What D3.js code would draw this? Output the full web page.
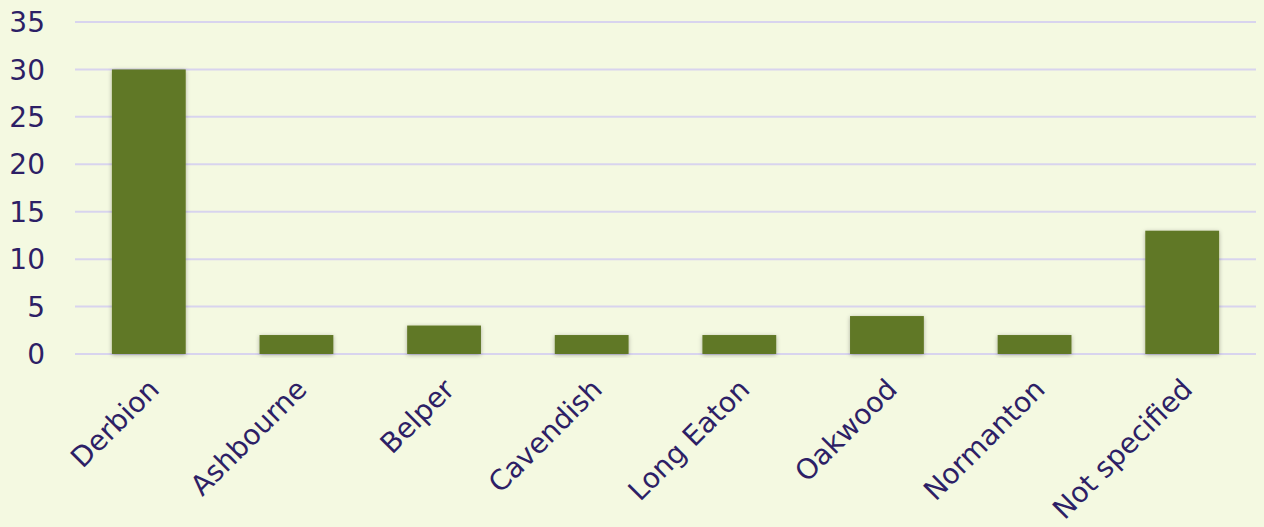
<!DOCTYPE html>
<html>
<head>
<meta charset="utf-8">
<script src="https://cdn.jsdelivr.net/npm/d3@7"></script>
<style>
  body { margin: 0; background: #f4f9e1; }
  svg { display: block; font-family: "DejaVu Sans", Verdana, sans-serif; }
</style>
</head>
<body>
<div id="chart"></div>
<script>
const categories = ['Derbion', 'Ashbourne', 'Belper', 'Cavendish', 'Long Eaton', 'Oakwood', 'Normanton', 'Not specified'];
const values = [30, 2, 3, 2, 2, 4, 2, 13];
const yTicks = [0, 5, 10, 15, 20, 25, 30, 35];

const width = 1264, height = 527;
const margin = { top: 22, right: 8, bottom: 173, left: 75 };

const svg = d3.select('#chart').append('svg')
    .attr('width', width)
    .attr('height', height);

svg.append('rect').attr('width', width).attr('height', height).attr('fill', '#f4f9e1');

const defs = svg.append('defs');
const f = defs.append('filter').attr('id', 'shadow').attr('x', '-20%').attr('y', '-20%').attr('width', '140%').attr('height', '140%');
f.append('feDropShadow').attr('dx', 0).attr('dy', 1).attr('stdDeviation', 2).attr('flood-color', '#000').attr('flood-opacity', 0.3);

const x = d3.scaleBand()
    .domain(categories)
    .range([margin.left, width - margin.right])
    .paddingInner(0.5)
    .paddingOuter(0.25);

const y = d3.scaleLinear()
    .domain([0, 35])
    .range([height - margin.bottom, margin.top]);

// gridlines
svg.append('g')
    .selectAll('line')
    .data(yTicks)
    .enter()
    .append('line')
    .attr('x1', margin.left)
    .attr('x2', width - margin.right)
    .attr('y1', d => y(d))
    .attr('y2', d => y(d))
    .attr('stroke', '#d8d4ee')
    .attr('stroke-width', 2);

// y labels
svg.append('g')
    .selectAll('text')
    .data(yTicks)
    .enter()
    .append('text')
    .attr('x', 45)
    .attr('y', d => y(d))
    .attr('dy', '0.36em')
    .attr('text-anchor', 'end')
    .attr('fill', '#2d1f66')
    .style('font-size', '28px')
    .text(d => d);

// bars
svg.append('g')
    .selectAll('rect')
    .data(values)
    .enter()
    .append('rect')
    .attr('x', (d, i) => x(categories[i]))
    .attr('width', x.bandwidth())
    .attr('y', d => y(d))
    .attr('height', d => y(0) - y(d))
    .attr('fill', '#617826')
    .attr('filter', 'url(#shadow)');

// x labels
svg.append('g')
    .selectAll('text')
    .data(categories)
    .enter()
    .append('text')
    .attr('transform', d => `translate(${x(d) + x.bandwidth() / 2 + 12}, ${y(0) + 37}) rotate(-45)`)
    .attr('text-anchor', 'end')
    .attr('fill', '#2d1f66')
    .style('font-size', '28px')
    .text(d => d);
</script>
</body>
</html>
